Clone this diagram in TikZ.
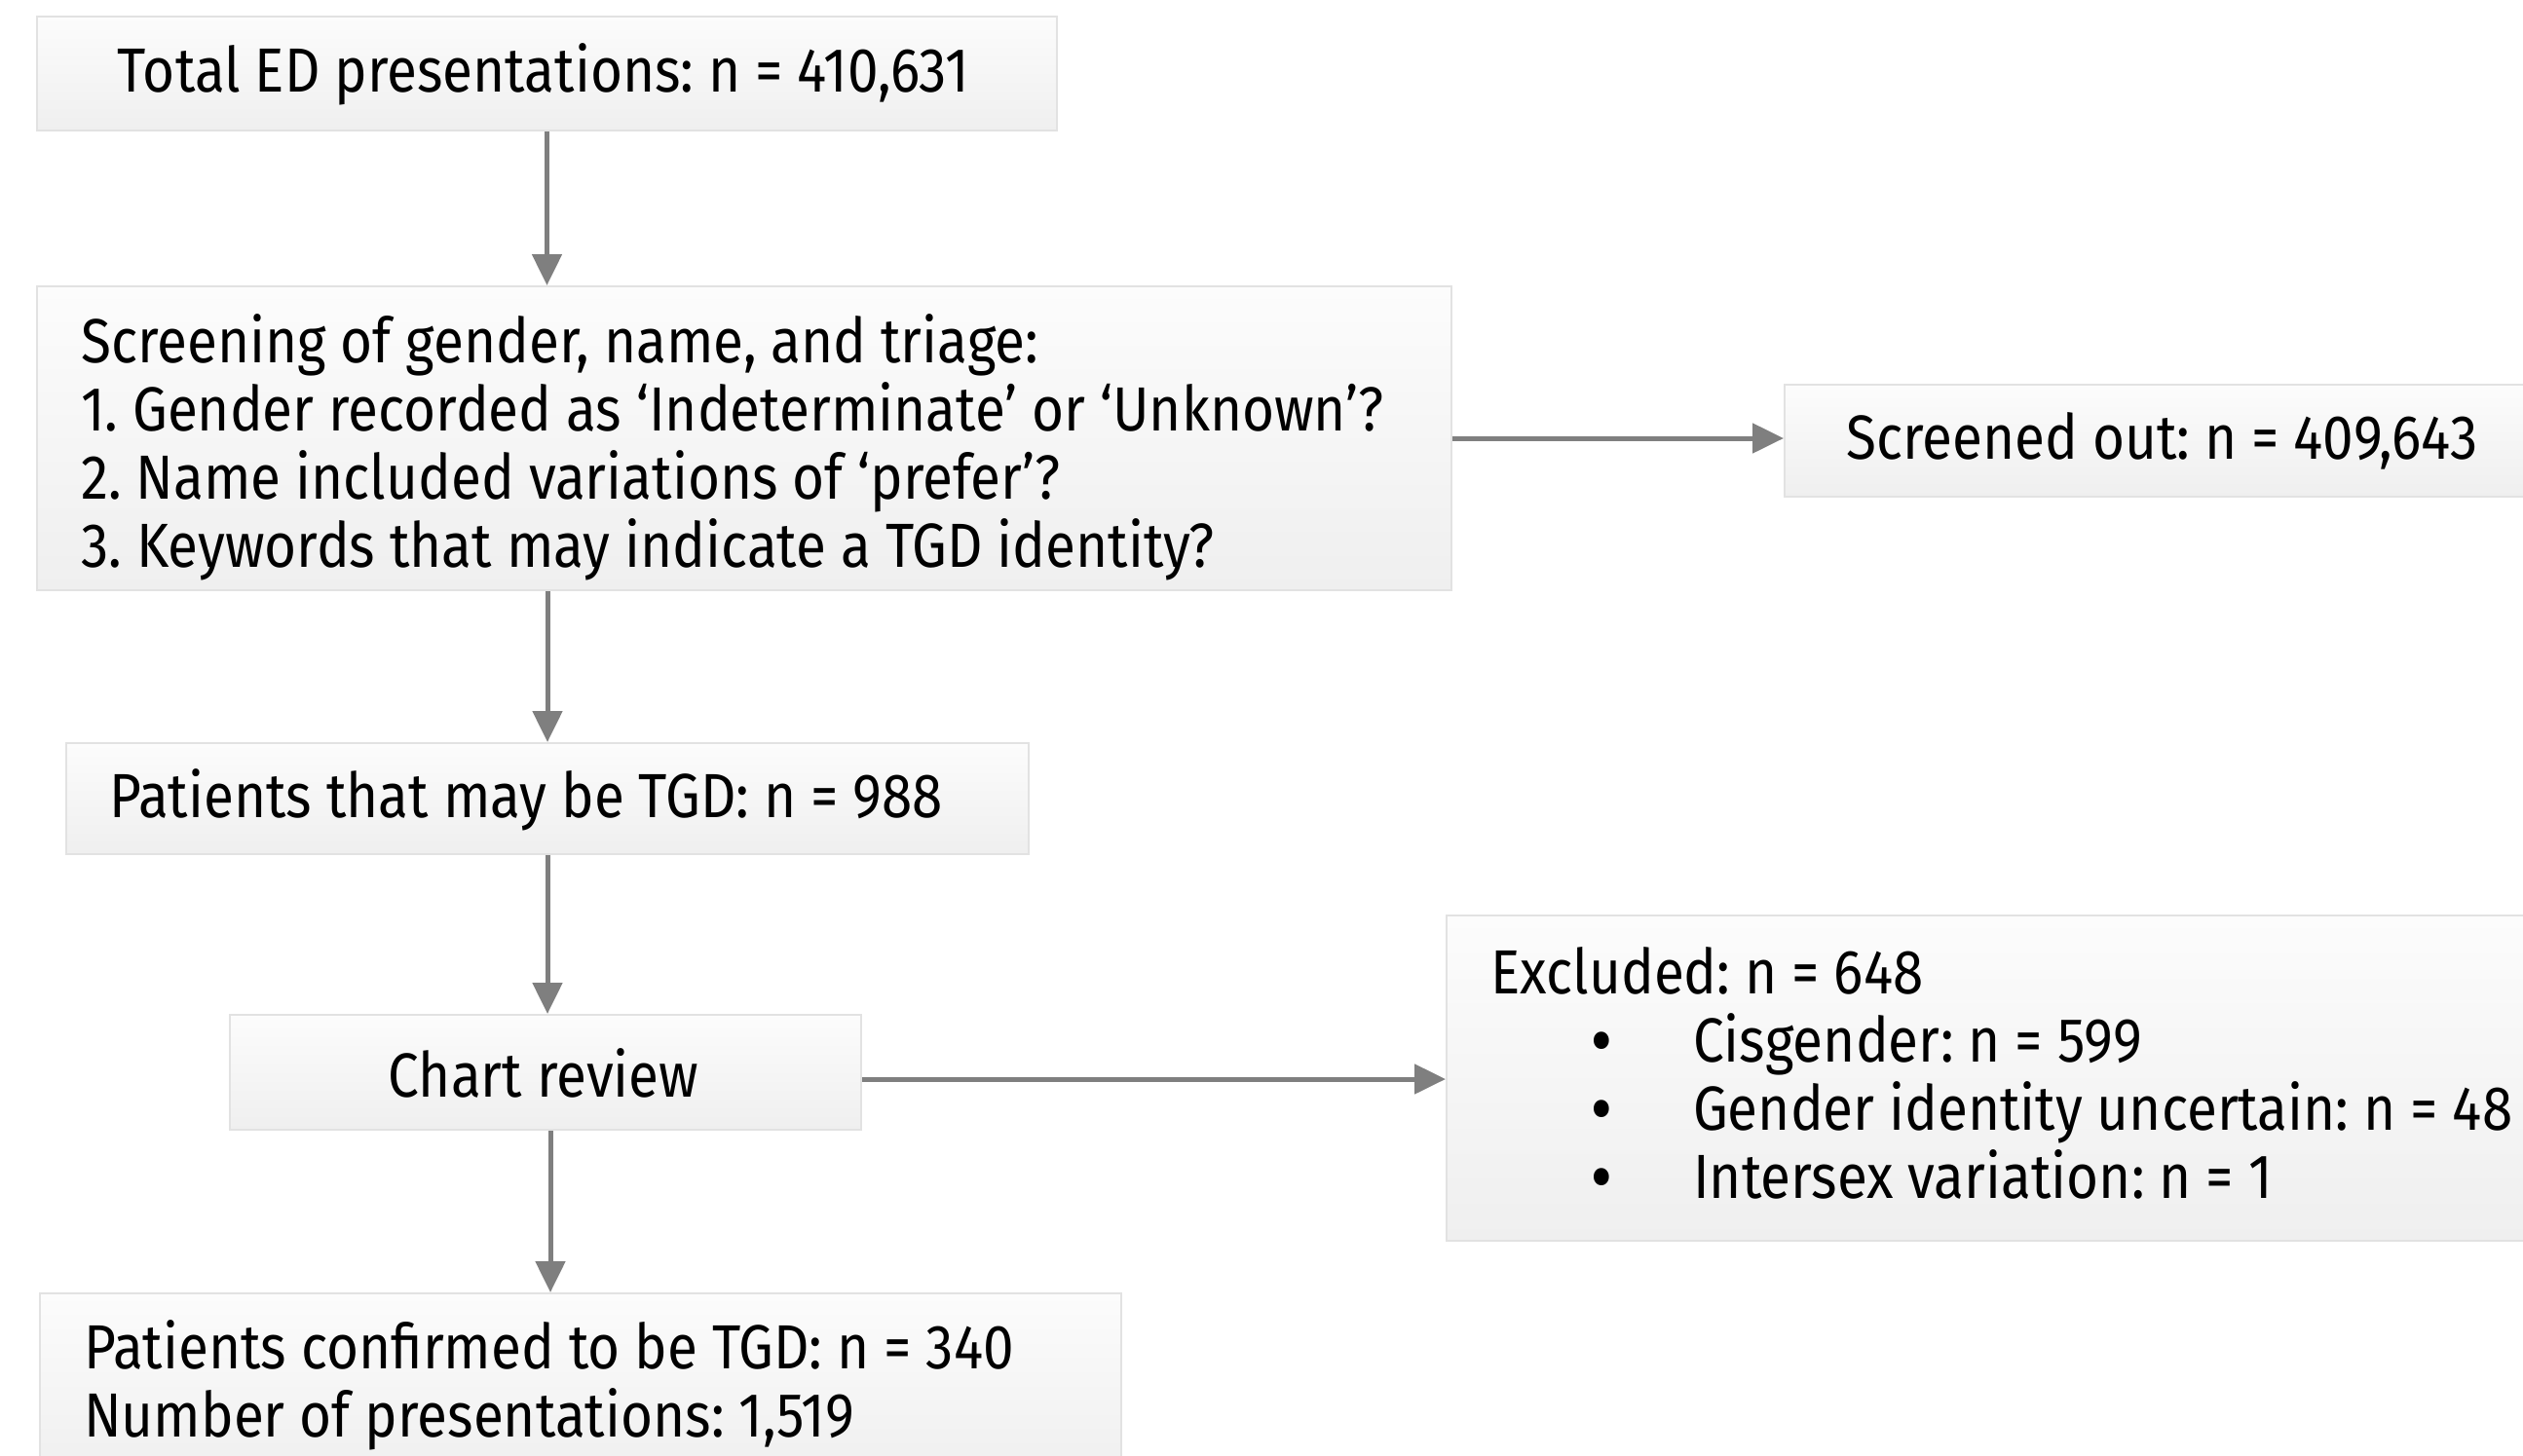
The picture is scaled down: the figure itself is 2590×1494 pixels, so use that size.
\documentclass[tikz,border=0pt]{standalone}
\usepackage{fontspec}
\setmainfont{Fira Sans}[FakeStretch=0.885]
\usetikzlibrary{arrows.meta}
\definecolor{boxtop}{HTML}{FCFCFC}
\definecolor{boxbot}{HTML}{EFEFEF}
\definecolor{boxline}{HTML}{E2E2E2}
\definecolor{arrgray}{HTML}{7F7F7F}
\newcommand{\bul}{\hspace*{104pt}\makebox[104pt][l]{\bfseries •}}
\tikzset{
  flowbox/.style={draw=boxline, line width=2pt, top color=boxtop, bottom color=boxbot, inner sep=0pt},
  txt/.style={font=\fontsize{64}{70}\selectfont\frenchspacing, inner sep=0pt, align=left},
  arr/.style={draw=arrgray, line width=5pt, -{Triangle[length=32pt,width=30pt]}}
}
\begin{document}
\begin{tikzpicture}[x=1pt,y=-1pt]
\useasboundingbox (0,0) rectangle (2590,1494);
\clip (0,0) rectangle (2590,1494);
\fill[white] (0,0) rectangle (2590,1494);

% boxes
\node[flowbox, minimum width=1047pt, minimum height=117pt] (b1) at (561.5,75.5) {};
\node[flowbox, minimum width=1452pt, minimum height=312pt] (b2) at (764,450) {};
\node[flowbox, minimum width=868pt, minimum height=115pt] (b3) at (2266,452.5) {};
\node[flowbox, minimum width=988pt, minimum height=114pt] (b4) at (562,820) {};
\node[flowbox, minimum width=648pt, minimum height=118pt] (b5) at (560,1101) {};
\node[flowbox, minimum width=1215pt, minimum height=334pt] (b6) at (2092.5,1107) {};
\node[flowbox, minimum width=1110pt, minimum height=190pt] (b7) at (596,1423) {};

% texts
\node[txt] (t1) at (558,76) {Total ED presentations: n = 410,631};
\node[txt, anchor=west] (t2) at (83,459)
  {Screening of gender, name, and triage:\\
   1. Gender recorded as ‘Indeterminate’ or ‘Unknown’?\\
   2. Name included variations of ‘prefer’?\\
   3. Keywords that may indicate a TGD identity?};
\node[txt, anchor=west] (t3) at (1895,453) {Screened out: n = 409,643};
\node[txt, anchor=west] (t4) at (112,821) {Patients that may be TGD: n = 988};
\node[txt] (t5) at (558,1102) {Chart review};
\node[txt, anchor=west] (t6) at (1530,1102)
  {Excluded: n = 648\\
   \bul Cisgender: n = 599\\
   \bul Gender identity uncertain: n = 48\\
   \bul Intersex variation: n = 1};
\node[txt, anchor=west] (t7) at (86,1422)
  {Patients confirmed to be TGD: n = 340\\
   Number of presentations: 1,519};

% connectors
\draw[arr] (b1.south) -- (b1.south |- b2.north);
\draw[arr] (b2.east) -- (b2.east -| b3.west);
\draw[arr] ([xshift=-202pt]b2.south) -- ([xshift=-202pt]b2.south |- b4.north);
\draw[arr] (b4.south) -- (b4.south |- b5.north);
\draw[arr] ([yshift=-7pt]b5.east) -- ([yshift=-7pt]b5.east -| b6.west);
\draw[arr] ([xshift=5pt]b5.south) -- ([xshift=5pt]b5.south |- b7.north);
\end{tikzpicture}
\end{document}
